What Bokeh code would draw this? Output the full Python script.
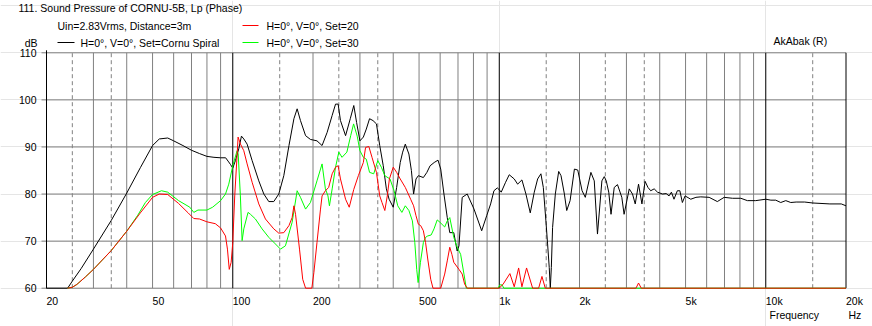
import math
from bokeh.plotting import figure
from bokeh.models import Range1d
from bokeh.core.properties import value
from bokeh.embed import file_html
from bokeh.resources import INLINE

# ---------------- data ----------------
black_f = [20, 24, 25, 27, 30, 35, 40, 45, 50, 53, 57, 60, 65, 70, 75, 80, 85, 90, 94, 96, 98, 100,
           102.3, 105.3, 107.8, 110, 113.2, 118.2, 125.2, 130.8, 136.5, 142.5, 148.8, 155.4, 162.5,
           169.6, 174.4, 179.5, 187.6, 195.6, 207, 216.3, 226, 236, 243, 248.5, 253.6, 265, 276,
           284.5, 291.5, 300, 309, 317, 326, 336, 346, 356, 367, 377, 386, 400, 412, 425, 434, 444,
           458, 468, 477, 487, 497, 519, 535, 550, 570, 589, 603, 620, 638, 652, 675, 695, 706, 726,
           758, 804, 859, 897, 928, 955, 983, 1000, 1017, 1056, 1090, 1138, 1172, 1216, 1259, 1307,
           1353, 1393, 1433, 1463, 1496, 1518, 1540, 1554, 1568, 1585, 1623, 1671, 1705, 1755, 1791,
           1844, 1914, 1970, 2045, 2103, 2207, 2272, 2336, 2427, 2477, 2520, 2575, 2626, 2700, 2777,
           2883, 2940, 3074, 3162, 3237, 3331, 3430, 3525, 3614, 3700, 3813, 3924, 4100, 4230, 4336,
           4425, 4525, 4658, 4760, 4865, 4980, 5230, 5470, 5700, 6130, 6580, 6980, 7500, 8060, 8530,
           9170, 10000, 10450, 10900, 11380, 11890, 12410, 13000, 14000, 15000, 17400, 19200, 20000]
black_db = [60, 60, 61.5, 64.2, 68.3, 74.4, 80.2, 85.6, 90.3, 91.7, 91.9, 91.3, 90.3, 89.3, 88.6, 88.0,
            87.8, 87.7, 87.7, 87.0, 86.3, 85.5,
            87.1, 89.6, 92.3, 91.7, 90.6, 87.1, 82.8, 80.0, 78.4, 78.4, 80.0, 83.9, 90.3,
            96.0, 98.1, 95.6, 92.4, 91.6, 91.3, 90.3, 93.1, 96.7, 99.1, 99.1, 95.6, 92.4, 96.0,
            98.8, 95.2, 91.3, 92.1, 93.8, 96.0, 95.6, 94.9, 90.3, 86.0, 81.1, 78.9, 77.2, 81.4, 86.7, 88.9, 90.6,
            88.5, 85.0, 80.0, 83.2, 83.9, 83.5, 84.6, 86.0, 86.7, 87.2, 85.3, 80.0, 75.0, 71.8, 71.8, 67.9, 69.0, 79.3,
            80.0, 76.8, 72.2, 75.4, 77.9, 80.7, 81.3, 80.9, 80.4, 82.5, 84.1, 83.2, 82.1, 83.0, 80.0, 76.0,
            80.4, 83.2, 84.3, 81.4, 74.3, 69.4, 64.4, 60.0, 64.4, 72.9, 80.0, 84.8, 83.9, 80.0, 76.5,
            78.6, 85.3, 85.1, 80.7, 79.3, 84.6, 82.8, 71.5, 82.8, 83.7, 82.8, 80.4, 75.7, 81.4, 82.0,
            79.3, 75.7, 81.1, 80.0, 77.9, 82.1, 77.9, 82.7, 81.4, 80.7, 81.1, 80.4, 80.0, 80.1, 79.6,
            80.4, 78.9, 80.7, 80.7, 78.2, 79.6, 78.9, 79.3, 79.4, 79.3, 78.4, 79.3, 79.1, 79.1, 78.6,
            78.6, 78.9, 78.7, 78.7, 78.2, 78.6, 78.2, 78.3, 78.3, 78.1, 77.9, 77.9, 77.5]

red_f = [24, 25, 26, 28, 30, 35, 40, 45, 50, 53, 57, 62.6, 68, 71.4, 75, 80, 86, 90, 93.9, 95.5, 97,
         98.6, 100, 101.7, 103.8, 104.7, 106.9, 110, 113.2, 118.2, 125.2, 132.6, 142.5, 148.8, 155.4,
         162.5, 167, 169.6, 172, 178, 183, 187.6, 198, 201.5, 207, 213.4, 216.3, 222.6, 229, 236, 243,
         248.5, 253.6, 265, 273.5, 284.5, 296, 309, 315, 324, 333, 346, 356, 363, 372, 380, 387, 400,
         412, 425, 444, 465, 477, 487, 497, 507, 519, 529, 539, 553, 564, 603, 624, 638, 652, 664, 675,
         706, 726, 741, 758, 1000, 1035, 1096, 1138, 1182, 1216, 1266, 1334, 1405, 1446, 1488, 3258,
         3331, 3410, 20000]
red_db = [60, 60.2, 60.8, 62.4, 64.0, 68.0, 72.1, 76.0, 79.3, 80.0, 79.9, 78.0, 76.0, 74.8, 74.7, 74.1,
          73.7, 72.8, 71.1, 68.3, 64.0,
          65.5, 69.7, 79.6, 88.2, 92.1, 90.6, 89.2, 86.4, 82.5, 77.9, 74.7, 72.6, 71.7, 71.8,
          73.3, 75.0, 77.5, 75.7, 68.3, 61.9, 60, 60, 63.3, 69.7, 76.8, 79.6, 80.7, 81.4, 84.3, 85.7,
          86.0, 83.2, 78.9, 77.2, 81.0, 83.9, 86.7, 89.9, 90.1, 87.8, 84.6, 79.6, 78.2, 76.5, 79.6, 83.2, 85.7,
          84.6, 83.2, 81.4, 78.9, 77.5, 75.4, 73.6, 73.3, 72.2, 69.7, 66.2, 61.9, 60, 60, 63.0, 65.8, 68.7, 67.2, 65.5,
          64.0, 63.0, 60.9, 60, 60, 60.9, 63.1, 60.3, 64.3, 60.3, 64.3, 60, 60, 62.5, 60, 60,
          61.1, 60, 60]

green_f = [24, 25, 26, 28, 30, 35, 40, 44, 47, 50, 54, 57, 62.6, 69, 71.4, 74, 80, 84, 90, 93.9, 96.6,
           100, 103.8, 104.8, 106.8, 108.4, 110, 114.1, 116.5, 121.6, 128.8, 136.5, 144.5, 151, 157.6,
           167, 174.4, 179.5, 187.6, 195.6, 207, 216.3, 222.6, 227.6, 230.5, 236, 243, 250, 257, 268,
           277, 284, 293, 300, 309, 317, 326, 338, 350, 361, 372, 389, 403, 416, 431, 444, 458, 472,
           482, 490, 496, 506, 519, 529, 539, 555, 569, 585, 599, 624, 638, 652, 675, 695, 716, 737,
           752, 990, 1005, 1025, 1040, 20000]
green_db = [60, 60.2, 60.8, 62.4, 64.0, 68.0, 72.1, 75.5, 78.2, 79.9, 80.7, 80.4, 78.6, 77.2, 76.1, 76.6,
            76.6, 77.2, 78.6, 80.0, 82.1,
            86.0, 89.2, 88.5, 79.6, 70.1, 72.6, 76.1, 75.7, 74.7, 72.6, 70.8, 69.4, 68.3, 69.0,
            74.0, 80.7, 79.3, 76.8, 78.2, 82.8, 86.4, 81.1, 79.6, 77.5, 81.1, 85.7, 88.9, 87.8, 88.9,
            92.4, 94.9, 92.3, 89.2, 87.8, 87.4, 84.6, 84.3, 87.1, 85.7, 83.9, 83.2, 80.7, 77.5, 76.1, 77.5, 76.5, 74.3,
            69.7, 64.0, 61.2, 65.5, 69.7, 70.8, 71.1, 71.3, 72.6, 74.5, 74.0, 73.0, 74.3, 75.0, 70.8, 68.7, 67.2, 63.0,
            60, 60, 60.7, 60.7, 60, 60]

grid_solid = [30, 40, 50, 60, 70, 80, 90, 200, 300, 400, 500, 600, 700, 800, 900,
              2000, 3000, 4000, 5000, 6000, 7000, 8000, 9000]
grid_dashed = [25, 35, 150, 250, 350, 1500, 2500, 3500, 15000]
grid_major = [20, 100, 1000, 10000, 20000]
db_ticks = [60, 70, 80, 90, 100, 110]
x_tick_f = [20, 50, 100, 200, 500, 1000, 2000, 5000, 10000, 20000]
x_tick_lab = ["20", "50", "100", "200", "500", "1k", "2k", "5k", "10k", "20k"]

title_txt = "111. Sound Pressure of CORNU-5B, Lp (Phase)"
cond_txt = "Uin=2.83Vrms, Distance=3m"
leg_black = "H=0°, V=0°, Set=Cornu Spiral"
leg_red = "H=0°, V=0°, Set=20"
leg_green = "H=0°, V=0°, Set=30"

# ---------------- layout (canvas pixel <-> data) ----------------
W, H = 872, 326
PX_DEC = 266.5          # px per decade
PX_DB = 4.708           # px per dB
X20 = 46.0              # canvas x of 20 Hz
Y110 = 52.3             # canvas y of 110 dB
F_LO, F_HI = 20, 20000
DB_LO, DB_HI = 60, 110


def fx(px):
    return F_LO * 10 ** ((px - X20) / PX_DEC)


def fy(py):
    return DB_HI - (py - Y110) / PX_DB


p = figure(width=W, height=H, x_axis_type="log",
           x_range=Range1d(fx(0), fx(W)), y_range=Range1d(fy(H), fy(0)),
           x_axis_location=None, y_axis_location=None,
           toolbar_location=None, output_backend="svg",
           min_border_left=0, min_border_right=0, min_border_top=0, min_border_bottom=0)
p.outline_line_color = None
p.background_fill_color = "white"
p.border_fill_color = "white"

GRAY = "#808080"
FONT = "Liberation Sans"
FS = "10.5px"

# horizontal grid (extends a few px left of the axis)
p.segment(x0=[fx(X20 - 5)] * len(db_ticks), y0=db_ticks, x1=[F_HI] * len(db_ticks), y1=db_ticks,
          line_color=GRAY, line_width=1)
# vertical grid
p.segment(x0=grid_solid, y0=DB_LO, x1=grid_solid, y1=DB_HI, line_color=GRAY, line_width=1)
p.segment(x0=grid_dashed, y0=DB_LO, x1=grid_dashed, y1=DB_HI, line_color=GRAY, line_width=1,
          line_dash="4 3")
p.segment(x0=grid_major, y0=DB_LO, x1=grid_major, y1=DB_HI, line_color="black", line_width=1)
p.segment(x0=[F_LO], y0=[DB_LO], x1=[F_LO], y1=[fy(Y110 - 2.5)], line_color="black", line_width=1)

# curves
p.line(black_f, black_db, line_color="black", line_width=1)
p.line(green_f, green_db, line_color="#00FF00", line_width=1)
p.line(red_f, red_db, line_color="#FF0000", line_width=1)


def txt(xs, ys, texts, align="left", baseline="middle"):
    p.text(x=xs, y=ys, text=texts, text_font=value(FONT), text_font_size=value(FS),
           text_color="black", text_align=align, text_baseline=baseline)


# y tick labels
txt([fx(36)] * len(db_ticks), db_ticks, [str(v) for v in db_ticks], align="right",
    baseline="alphabetic")
txt([fx(37)], [fy(42)], ["dB"], align="right")
# x tick labels
txt(x_tick_f, [fy(300)] * len(x_tick_f), x_tick_lab)
txt([fx(769), fx(848)], [fy(314)] * 2, ["Frequency", "Hz"])

# title and legend
txt([fx(18)], [fy(7)], [title_txt])
txt([fx(57)], [fy(25)], [cond_txt])
txt([fx(80)], [fy(42)], [leg_black])
txt([fx(266), fx(266)], [fy(25), fy(42)], [leg_red, leg_green])
txt([fx(773)], [fy(40)], ["AkAbak (R)"])

for (x0, x1, y, c) in [(57, 74, 42, "black"), (242, 258, 25, "#FF0000"), (242, 258, 42, "#00FF00")]:
    p.line([fx(x0), fx(x1)], [fy(y), fy(y)], line_color=c, line_width=1)

open("out.html", "w").write(file_html(p, INLINE))
